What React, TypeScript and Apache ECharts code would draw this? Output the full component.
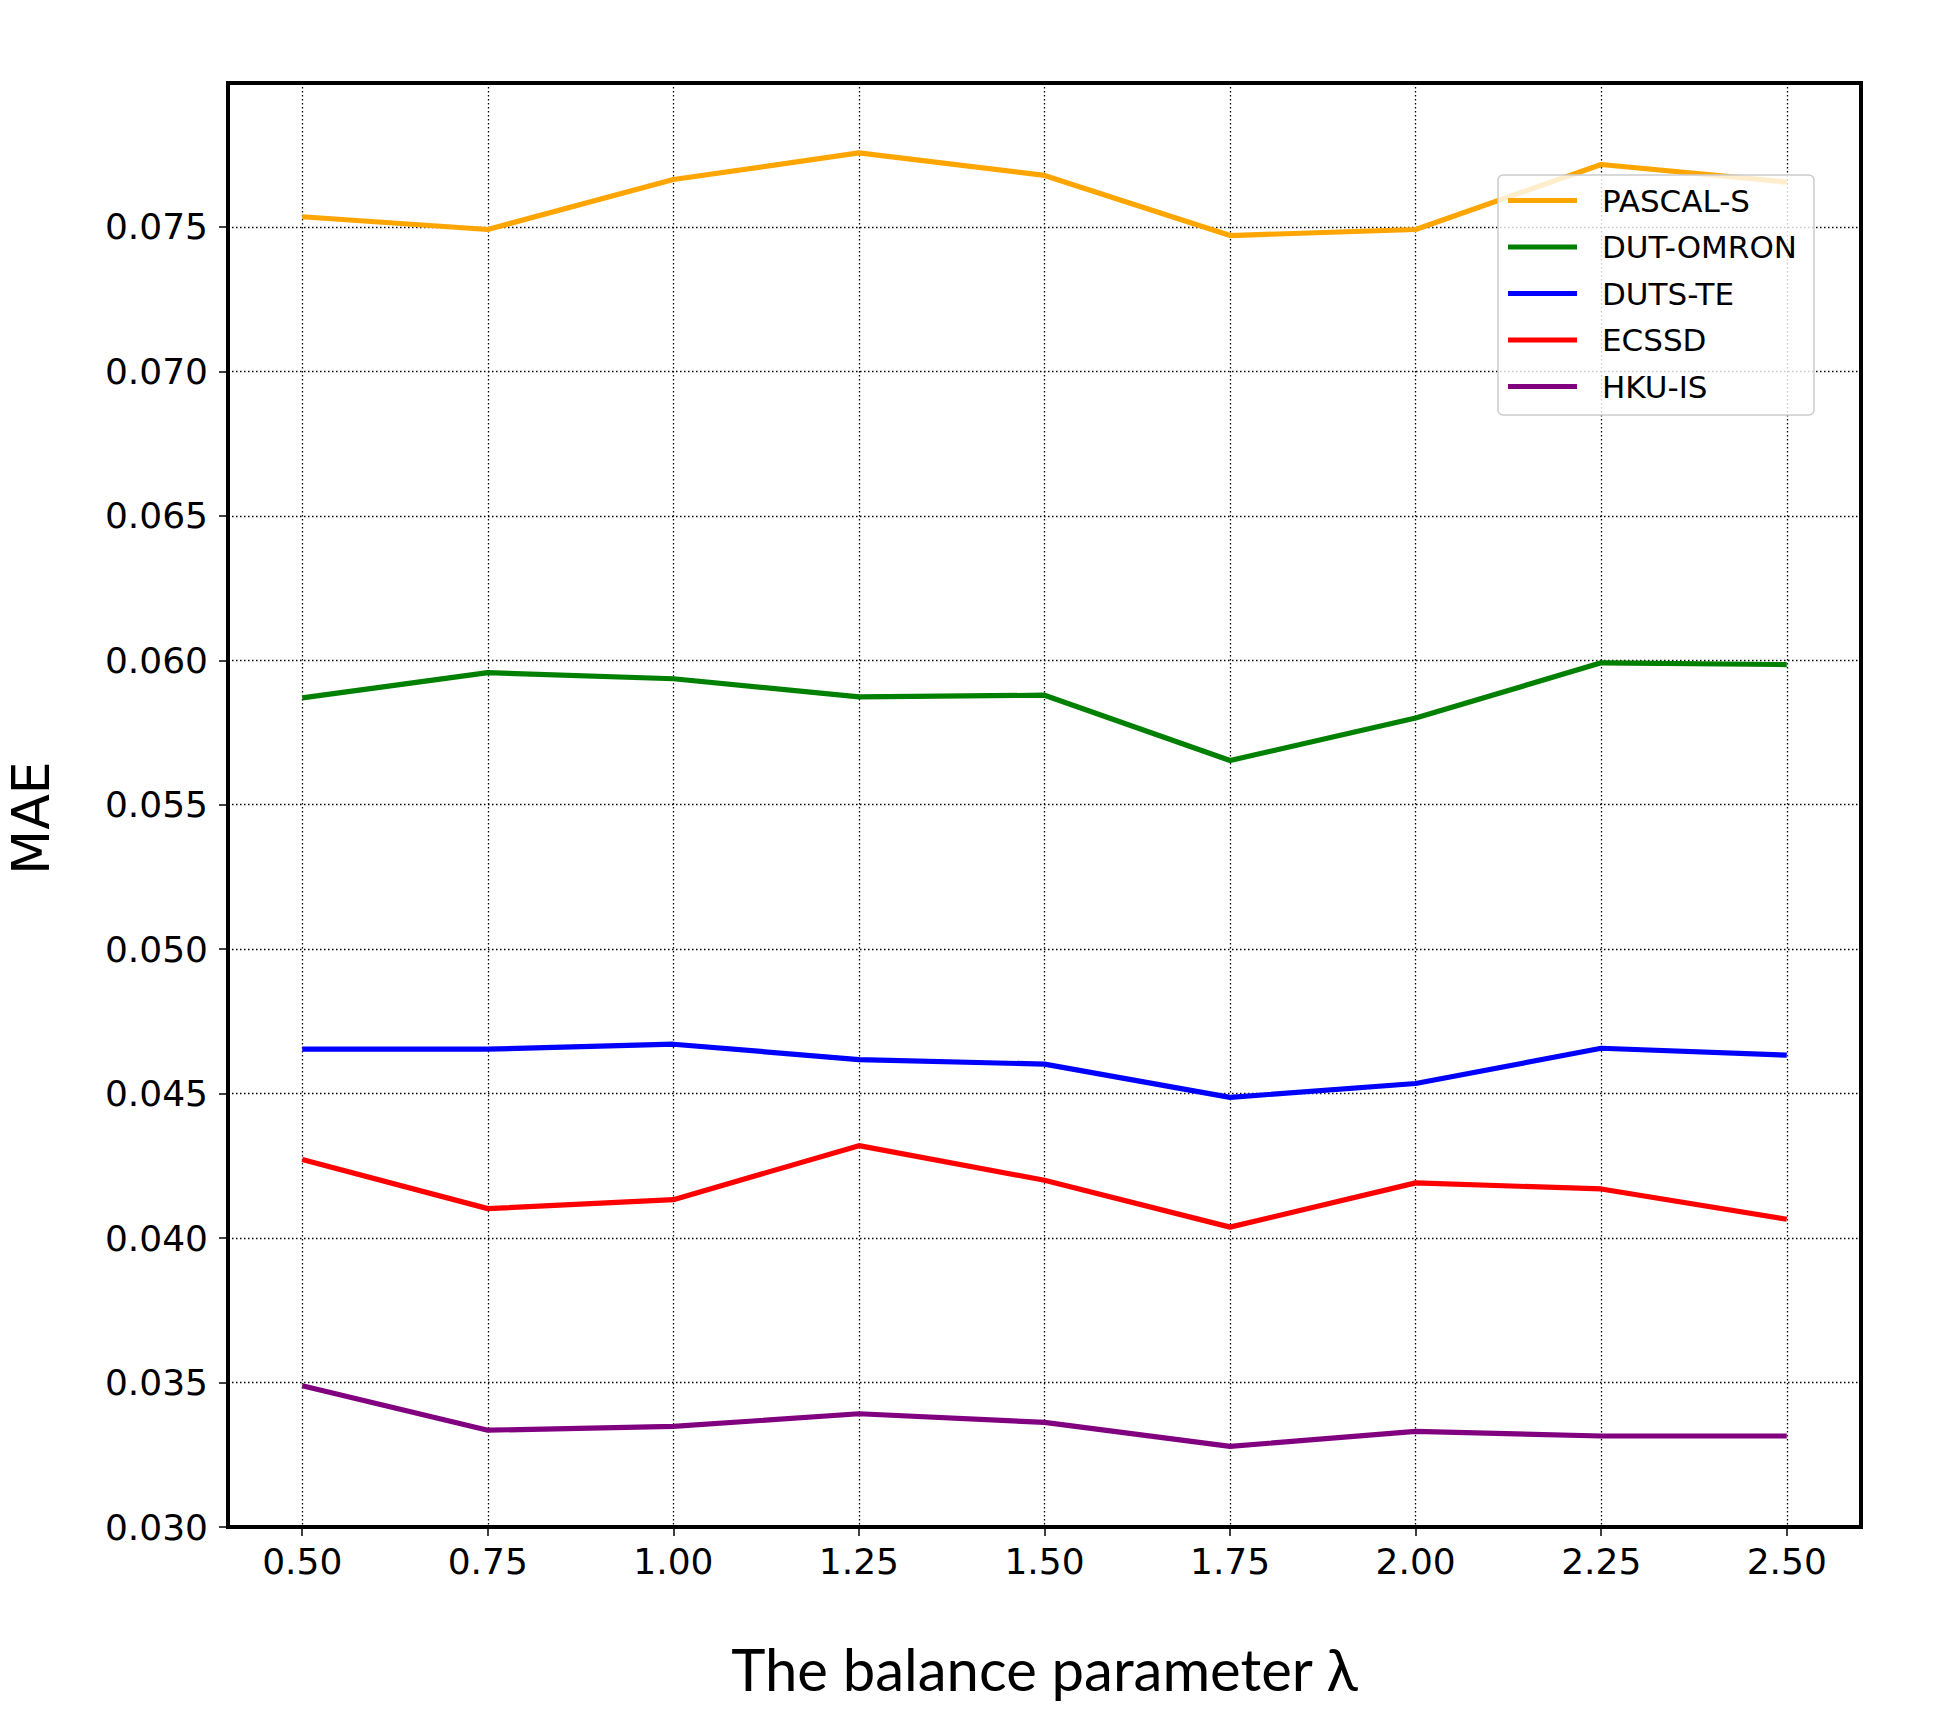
import React, { useEffect, useRef } from "react";
import * as echarts from "echarts";

const lambdas = [0.5, 0.75, 1.0, 1.25, 1.5, 1.75, 2.0, 2.25, 2.5];
const xTicks = [0.5, 0.75, 1.0, 1.25, 1.5, 1.75, 2.0, 2.25, 2.5];

const seriesNames = ["PASCAL-S", "DUT-OMRON", "DUTS-TE", "ECSSD", "HKU-IS"];
const seriesColors = ["#FFA500", "#008000", "#0000FF", "#FF0000", "#800080"];

const pascalS = [0.07535, 0.07491, 0.07664, 0.07756, 0.07678, 0.0747, 0.07491, 0.07716, 0.07655];
const dutOmron = [0.0587, 0.05957, 0.05936, 0.05873, 0.05879, 0.05653, 0.058, 0.05991, 0.05985];
const dutsTe = [0.04654, 0.04654, 0.04671, 0.04618, 0.04602, 0.04487, 0.04535, 0.04657, 0.04633];
const ecssd = [0.04272, 0.04102, 0.04133, 0.0432, 0.042, 0.04038, 0.04191, 0.0417, 0.04065];
const hkuIs = [0.03489, 0.03335, 0.03348, 0.03392, 0.03362, 0.03279, 0.03331, 0.03315, 0.03315];

const allValues = [pascalS, dutOmron, dutsTe, ecssd, hkuIs];

export default function App() {
  const ref = useRef<HTMLDivElement>(null);

  useEffect(() => {
    if (!ref.current) return;
    const chart = echarts.init(ref.current, undefined, { renderer: "svg" });
    const font = "DejaVu Sans";
    const gridLine = { show: true, lineStyle: { color: "#000", width: 1.3, type: [1.5, 2.5] as any } };

    chart.setOption({
      animation: false,
      backgroundColor: "#ffffff",
      grid: {
        left: 228,
        right: 97,
        top: 83,
        bottom: 183,
        containLabel: false,
        outerBoundsMode: "none",
        show: true,
        borderColor: "#000",
        borderWidth: 4,
        backgroundColor: "transparent",
        z: 3,
      },
      legend: {
        orient: "vertical",
        left: 1498,
        top: 175,
        data: seriesNames,
        icon: "rect",
        itemWidth: 69,
        itemHeight: 5,
        itemGap: 15.5,
        padding: [10, 17, 13, 10],
        backgroundColor: "rgba(255,255,255,0.8)",
        borderColor: "#cccccc",
        borderWidth: 1.5,
        borderRadius: 5,
        textStyle: {
          fontFamily: font,
          fontSize: 31,
          color: "#000",
          lineHeight: 31,
          padding: [0, 0, 0, 20],
        },
      },
      xAxis: {
        type: "value",
        min: 0.4,
        max: 2.6,
        name: "The balance parameter λ",
        nameLocation: "middle",
        nameGap: 112,
        nameTextStyle: { fontFamily: "Lato", fontSize: 58, color: "#000" },
        axisLine: { show: true, onZero: false, lineStyle: { color: "#000", width: 4 } },
        axisTick: { show: true, length: 9, lineStyle: { color: "#000", width: 1.5 }, customValues: xTicks },
        axisLabel: {
          fontFamily: font,
          fontSize: 36,
          color: "#000",
          margin: 16,
          customValues: xTicks,
          formatter: (v: number) => v.toFixed(2),
        },
        splitLine: gridLine,
      },
      yAxis: {
        type: "value",
        min: 0.03,
        max: 0.07998,
        interval: 0.005,
        name: "MAE",
        nameLocation: "middle",
        nameGap: 174,
        nameTextStyle: {
          fontFamily: font,
          fontSize: 52,
          lineHeight: 46,
          color: "#000",
          padding: [0, 26, 0, 0],
        },
        axisLine: { show: true, onZero: false, lineStyle: { color: "#000", width: 4 } },
        axisTick: { show: true, length: 9, lineStyle: { color: "#000", width: 1.5 } },
        axisLabel: {
          fontFamily: font,
          fontSize: 36,
          color: "#000",
          margin: 20,
          showMaxLabel: false,
          formatter: (v: number) => v.toFixed(3),
        },
        splitLine: gridLine,
      },
      series: seriesNames.map((name, i) => ({
        name,
        type: "line",
        data: lambdas.map((x, j) => [x, allValues[i][j]]),
        showSymbol: false,
        symbol: "none",
        lineStyle: { color: seriesColors[i], width: 5.2 },
        itemStyle: { color: seriesColors[i] },
        z: 2,
      })),
    });

    return () => chart.dispose();
  }, []);

  return (
    <div
      ref={ref}
      style={{ position: "absolute", left: 0, top: 0, width: 1958, height: 1710 }}
    />
  );
}
